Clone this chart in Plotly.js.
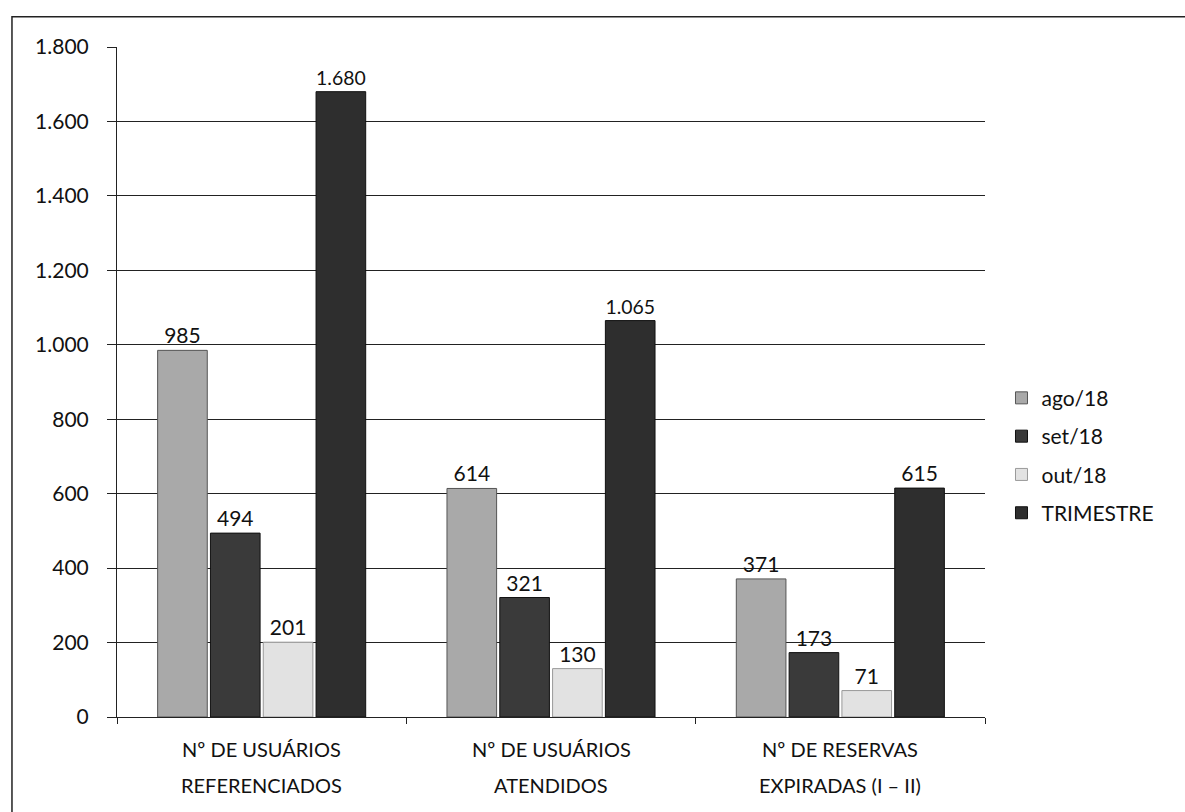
<!DOCTYPE html>
<html>
<head>
<meta charset="utf-8">
<script src="https://cdn.plot.ly/plotly-3.0.1.min.js"></script>
<style>html,body{margin:0;padding:0;background:#fff;}#chart{width:1185px;height:812px;}</style>
</head>
<body>
<div id="chart"></div>
<script>
const categories = ["Nº DE USUÁRIOS<br>REFERENCIADOS", "Nº DE USUÁRIOS<br>ATENDIDOS", "Nº DE RESERVAS<br>EXPIRADAS (I – II)"];
const seriesNames = ["ago/18", "set/18", "out/18", "TRIMESTRE"];
const ago18 = [985, 614, 371];
const set18 = [494, 321, 173];
const out18 = [201, 130, 71];
const trimestre = [1680, 1065, 615];
const yTicks = [0, 200, 400, 600, 800, 1000, 1200, 1400, 1600, 1800];

const seriesValues = [ago18, set18, out18, trimestre];
const colors = ["#a9a9a9", "#3a3a3a", "#e2e2e2", "#2e2e2e"];
const lineColors = ["#555", "#111", "#999", "#111"];

const family = "Lato, 'Open Sans', sans-serif";
const font = {family: family, size: 21, color: "#111"};

const traces = seriesValues.map((vals, i) => ({
  type: "bar",
  name: seriesNames[i],
  legendgroup: "g" + i,
  x: categories,
  y: vals,
  marker: {color: colors[i], line: {color: lineColors[i], width: 1}},
  text: vals,
  texttemplate: "%{y:,.0f}",
  textposition: "outside",
  cliponaxis: false,
  textfont: font
}));

// two-line category labels drawn as annotations under each group
const annotations = [];
categories.forEach(c => {
  const lines = c.split("<br>");
  lines.forEach((ln, k) => {
    annotations.push({
      x: c, xref: "x", yref: "paper", y: -0.027 - k * 0.054,
      yanchor: "top", xanchor: "center", showarrow: false,
      text: ln, font: {family: family, size: 20, color: "#111"}
    });
  });
});

const layout = {
  width: 1185, height: 812,
  margin: {l: 117, r: 200, t: 47, b: 95},
  paper_bgcolor: "#fff", plot_bgcolor: "#fff",
  separators: ",.",
  font: font,
  barmode: "group",
  bargap: 0.27,
  bargroupgap: 0.06,
  showlegend: true,
  legend: {x: 1.019, y: 0.39, xanchor: "left", yanchor: "middle", font: {family: family, size: 21, color: "#111"}, tracegroupgap: 8, itemwidth: 30, bgcolor: "rgba(0,0,0,0)"},
  xaxis: {
    showline: true, linecolor: "#222", linewidth: 1,
    ticks: "outside", tickson: "boundaries", ticklen: 6, tickcolor: "#222",
    showticklabels: false, showgrid: false
  },
  yaxis: {
    range: [0, 1800], tickvals: yTicks, tickformat: ",.0f",
    showgrid: true, gridcolor: "#222", gridwidth: 1,
    showline: true, linecolor: "#222", linewidth: 1,
    ticks: "outside", ticklen: 9, tickcolor: "#222",
    ticklabelstandoff: 14,
    tickfont: font, zeroline: false
  },
  annotations: annotations,
  shapes: [
    {type: "rect", xref: "paper", yref: "paper", x0: -0.121, x1: 1.25, y0: -0.2, y1: 1.045, line: {color: "#222", width: 1.5}, fillcolor: "rgba(0,0,0,0)"}
  ]
};

Plotly.newPlot("chart", traces, layout, {displayModeBar: false, staticPlot: true});
</script>
</body>
</html>
